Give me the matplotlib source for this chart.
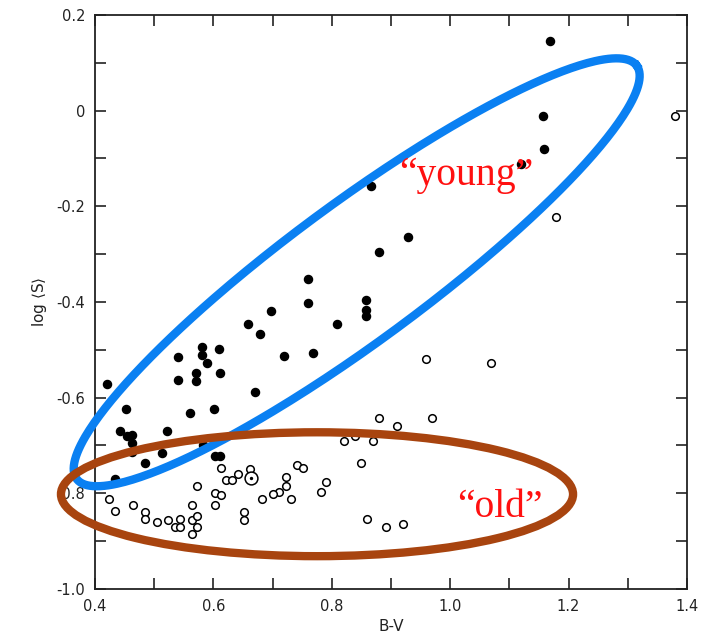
import numpy as np
import matplotlib
matplotlib.use("Agg")
import matplotlib.pyplot as plt
from matplotlib.patches import Ellipse

# filled circles ("young")
young_bv = [1.169, 1.157, 1.158, 1.119, 0.928, 0.867, 0.879, 0.759, 0.759, 0.858,
            0.858, 0.858, 0.698, 0.659, 0.679, 0.808, 0.580, 0.580, 0.610, 0.540,
            0.589, 0.571, 0.571, 0.611, 0.540, 0.421, 0.452, 0.560, 0.601, 0.442,
            0.454, 0.463, 0.522, 0.462, 0.463, 0.513, 0.582, 0.603, 0.611, 0.484,
            0.433, 0.719, 0.769, 0.670]
young_logs = [0.146, -0.012, -0.080, -0.112, -0.264, -0.158, -0.296, -0.351, -0.402, -0.396,
              -0.417, -0.430, -0.418, -0.447, -0.466, -0.447, -0.495, -0.511, -0.499, -0.516,
              -0.527, -0.548, -0.565, -0.549, -0.564, -0.572, -0.624, -0.632, -0.623, -0.670,
              -0.681, -0.679, -0.670, -0.695, -0.714, -0.715, -0.700, -0.723, -0.723, -0.736,
              -0.771, -0.512, -0.506, -0.588]

# open circles ("old")
old_bv = [1.380, 1.179, 0.880, 0.840, 0.821, 0.870, 0.424, 0.434, 0.464, 0.484,
          0.484, 0.504, 0.524, 0.535, 0.544, 0.544, 0.563, 0.563, 0.573, 0.573,
          0.563, 0.573, 0.603, 0.613, 0.603, 0.613, 0.622, 0.632, 0.642, 0.662,
          0.741, 0.751, 0.722, 0.722, 0.711, 0.701, 0.682, 0.731, 0.791, 0.781,
          0.850, 0.652, 0.652, 0.860, 0.891, 0.959, 1.069, 0.969, 0.910, 0.921]
old_logs = [-0.011, -0.222, -0.642, -0.681, -0.691, -0.691, -0.813, -0.838, -0.825, -0.839,
            -0.853, -0.861, -0.855, -0.870, -0.870, -0.854, -0.825, -0.856, -0.848, -0.870,
            -0.886, -0.784, -0.799, -0.803, -0.825, -0.747, -0.773, -0.773, -0.759, -0.750,
            -0.741, -0.747, -0.766, -0.785, -0.798, -0.802, -0.811, -0.811, -0.776, -0.797,
            -0.736, -0.839, -0.855, -0.854, -0.871, -0.520, -0.527, -0.642, -0.660, -0.864]

# the Sun (circle with dot)
sun_bv = [0.663]
sun_logs = [-0.769]

x_ticks = [0.4, 0.6, 0.8, 1.0, 1.2, 1.4]
x_ticklabels = ["0.4", "0.6", "0.8", "1.0", "1.2", "1.4"]
y_ticks = [-1.0, -0.8, -0.6, -0.4, -0.2, 0.0, 0.2]
y_ticklabels = ["-1.0", "-0.8", "-0.6", "-0.4", "-0.2", "0", "0.2"]

fig = plt.figure(figsize=(7.09, 6.36), dpi=100)
ax = fig.add_axes([0.134, 0.074, 0.835, 0.9025])

ax.scatter(young_bv, young_logs, s=34, color="black", zorder=3)
ax.scatter(old_bv, old_logs, s=30, facecolors="white", edgecolors="black", linewidths=1.1, zorder=3)
ax.scatter(sun_bv, sun_logs, s=85, facecolors="white", edgecolors="black", linewidths=1.1, zorder=3)
ax.scatter(sun_bv, sun_logs, s=2, color="black", zorder=4)

ax.set_xlim(0.4, 1.4)
ax.set_ylim(-1.0, 0.2)
ax.set_xticks(x_ticks)
ax.set_xticklabels(x_ticklabels)
ax.set_yticks(y_ticks)
ax.set_yticklabels(y_ticklabels)
ax.set_xticks(np.arange(0.5, 1.4, 0.2), minor=True)
ax.set_yticks(np.arange(-0.9, 0.2, 0.2), minor=True)
ax.tick_params(which="both", direction="in", top=True, right=True, length=8, width=1.2,
               labelsize=10.5, colors="#222222", pad=7)
for s in ax.spines.values():
    s.set_linewidth(1.3)
    s.set_color("#222222")

ax.set_xlabel("B-V", fontsize=11, color="#222222", labelpad=4)
ax.set_ylabel(r"log $\langle$S$\rangle$", fontsize=11, color="#222222")
ax.yaxis.set_label_coords(-0.078, 0.5)

# "young" ellipse: centre plus two semi-axis vectors (data units)
t = np.linspace(0, 2 * np.pi, 400)
cx, cy = 0.842, -0.338
major = (0.473, 0.432)
minor = (0.069, -0.116)
ax.plot(cx + major[0] * np.cos(t) + minor[0] * np.sin(t),
        cy + major[1] * np.cos(t) + minor[1] * np.sin(t),
        color="#0a80f2", lw=6, zorder=5, clip_on=False)

# "old" ellipse
ax.add_patch(Ellipse((0.775, -0.802), width=0.865, height=0.259, fill=False,
                     edgecolor="#a8440f", lw=6, zorder=5, clip_on=False))

ax.text(1.027, -0.156, "\u201cyoung\u201d", color="#ff1010", fontsize=28.5,
        family="Liberation Serif", ha="center", va="baseline", zorder=6)
ax.text(1.084, -0.850, "\u201cold\u201d", color="#ff1010", fontsize=28.5,
        family="Liberation Serif", ha="center", va="baseline", zorder=6)

fig.savefig("out.png", dpi=100)
